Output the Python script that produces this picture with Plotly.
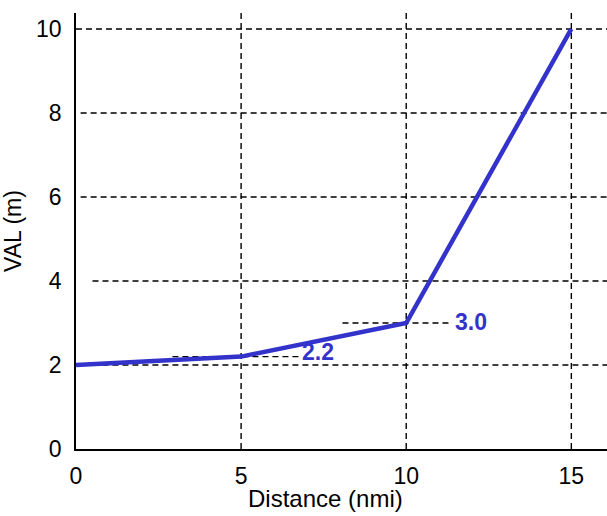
import plotly.graph_objects as go

# Data
distance = [0, 5, 10, 15]
val = [2.0, 2.2, 3.0, 10.0]
x_ticks = [0, 5, 10, 15]
y_ticks = [0, 2, 4, 6, 8, 10]
ann_labels = ["2.2", "3.0"]
ann_x = [7.33, 11.97]
ann_y = [2.3, 3.03]
# reference segments for the annotations: (x0, x1, y)
ref_x0 = [2.92, 8.07]
ref_x1 = [6.8, 11.4]
ref_y = [2.2, 3.0]
# horizontal grid start positions (x) per y gridline
hgrid_y = [2, 4, 6, 8, 10]
hgrid_x0 = [0.8, 0.5, 0.14, 0.14, 0.0]
vgrid_x = [5, 10, 15]

XMAX = 16.08
YMAX = 10.38
FONT = "Liberation Sans, Arial, sans-serif"
BLUE = "#3333CC"

fig = go.Figure()

shapes = []
dash = "6px,4px"
for y, x0 in zip(hgrid_y, hgrid_x0):
    shapes.append(dict(type="line", xref="x", yref="y", x0=x0, x1=XMAX, y0=y, y1=y,
                       line=dict(color="black", width=1.4, dash=dash), layer="below"))
for x in vgrid_x:
    shapes.append(dict(type="line", xref="x", yref="paper", x0=x, x1=x, y0=0, y1=1,
                       line=dict(color="black", width=1.4, dash=dash), layer="below"))
for x0, x1, y in zip(ref_x0, ref_x1, ref_y):
    shapes.append(dict(type="line", xref="x", yref="y", x0=x0, x1=x1, y0=y, y1=y,
                       line=dict(color="black", width=1.4, dash=dash), layer="below"))

fig.add_trace(go.Scatter(x=distance, y=val, mode="lines",
                         line=dict(color=BLUE, width=4.5), showlegend=False))

annotations = []
for t, x, y in zip(ann_labels, ann_x, ann_y):
    annotations.append(dict(x=x, y=y, xref="x", yref="y", text="<b>%s</b>" % t,
                            showarrow=False, font=dict(family=FONT, size=23, color=BLUE)))
# x-axis title (placed slightly left of centre, as in the reference)
annotations.append(dict(x=0.469, y=-0.113, xref="paper", yref="paper",
                        text="Distance (nmi)", showarrow=False,
                        xanchor="center", yanchor="middle",
                        font=dict(family=FONT, size=24, color="black")))

fig.update_layout(
    width=607, height=516,
    margin=dict(l=76, r=0, t=13, b=67),
    plot_bgcolor="white", paper_bgcolor="white",
    shapes=shapes, annotations=annotations,
    font=dict(family=FONT, size=23, color="black"),
    xaxis=dict(range=[0, XMAX], tickvals=x_ticks, showgrid=False, zeroline=False,
               showline=True, linecolor="black", linewidth=1.5, ticks="",
               ticklabelstandoff=6),
    yaxis=dict(range=[0, YMAX], tickvals=y_ticks, showgrid=False, zeroline=False,
               showline=True, linecolor="black", linewidth=1.5, ticks="",
               ticklabelstandoff=8,
               title=dict(text="VAL (m)", standoff=10, font=dict(size=23))),
)

fig.write_html("out.html")
